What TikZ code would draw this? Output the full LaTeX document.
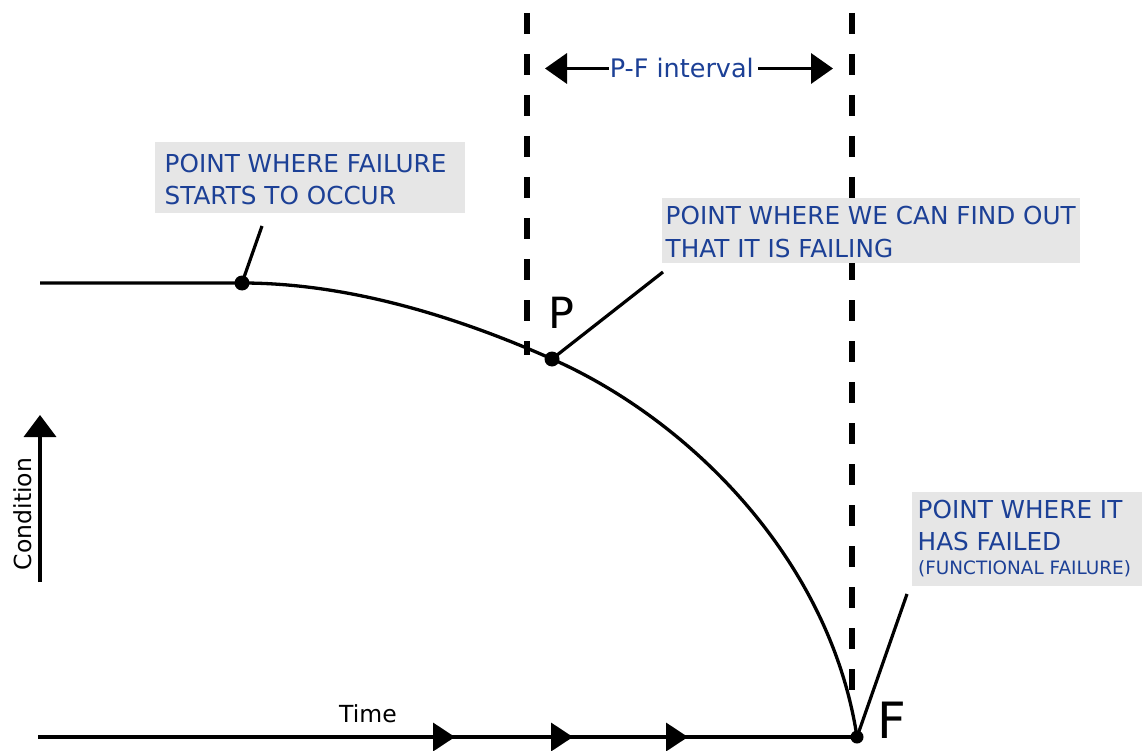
\documentclass[tikz,border=0pt]{standalone}
\usepackage{fontspec}
\setmainfont{DejaVu Sans}
\usetikzlibrary{arrows.meta,decorations.markings}
\definecolor{lblue}{RGB}{28,64,150}
\definecolor{boxgrey}{RGB}{230,230,230}
\begin{document}
\begin{tikzpicture}[x=1pt,y=-1pt,
  gbox/.style={fill=boxgrey, inner sep=0, anchor=north west},
  lbl/.style={text=lblue, inner sep=0, anchor=base west, font=\fontsize{24.7}{30}\selectfont},
  slbl/.style={lbl, font=\fontsize{18.4}{22}\selectfont},
  dot/.style={circle, fill=black, inner sep=0, minimum size=15pt},
  curveline/.style={line width=3.3pt},
  leader/.style={line width=3.2pt},
  dashline/.style={line width=6pt, dash pattern=on 21pt off 20pt},
  bigtip/.style={-{Triangle[length=22pt,width=30pt]}},
  axislbl/.style={font=\fontsize{23.5}{28}\selectfont, inner sep=0},
  bigl/.style={inner sep=0, anchor=base west}]
\useasboundingbox (0,0) rectangle (1142,751);
\fill[white] (0,0) rectangle (1142,751);

% dashed verticals
\coordinate (d1t) at (527,13);
\coordinate (d1b) at (527,355);
\coordinate (d2t) at (852,13);
\coordinate (d2b) at (852,707);
\draw[dashline] (d1t) -- (d1b);
\draw[dashline] (d2t) -- (d2b);

% P-F interval
\node[lbl, font=\fontsize{25.5}{30}\selectfont] (pfi) at (609.6,78) {P-F interval};
\coordinate (pfl) at (545,68);
\coordinate (pfr) at (833,68);
\draw[line width=3.6pt, bigtip] ([xshift=-1pt]pfi.west) -- (pfi.west -| pfl);
\draw[line width=3.6pt, bigtip] ([xshift=4pt]pfi.east) -- (pfi.east -| pfr);

% label boxes
\node[gbox, minimum width=310pt, minimum height=71pt] (b1) at (155,142) {};
\node[gbox, minimum width=418pt, minimum height=65pt] (b2) at (662,198) {};
\node[gbox, minimum width=230pt, minimum height=94pt] (b3) at (912,492) {};

\node[lbl] (t1a) at (164.5,173) {POINT WHERE FAILURE};
\node[lbl] (t1b) at (164.5,205) {STARTS TO OCCUR};
\node[lbl] (t2a) at (665.5,225) {POINT WHERE WE CAN FIND OUT};
\node[lbl] (t2b) at (665.5,258) {THAT IT IS FAILING};
\node[lbl] (t3a) at (917.5,518) {POINT WHERE IT};
\node[lbl] (t3b) at (917.5,550) {HAS FAILED};
\node[slbl] (t3c) at (918,574) {(FUNCTIONAL FAILURE)};

% curve
\coordinate (s0) at (40,283);
\node[dot] (A) at (242,283) {};
\node[dot] (P) at (552,359) {};
\node[dot, minimum size=13pt] (F) at (857,737) {};
\draw[curveline] (s0) -- (A.center) .. controls (350,283) and (460,318) .. (P.center)
  .. controls (690,420) and (830,560) .. (F.center);

% leaders
\coordinate (la) at (262,226);
\coordinate (lp) at (663,272);
\coordinate (lf) at (907,594);
\draw[leader] (A.center) -- (la);
\draw[leader] (P.center) -- (lp);
\draw[leader] (F.center) -- (lf);

% P and F letters
\node[bigl, font=\fontsize{43}{50}\selectfont] (Pl) at (548,328) {P};
\node[bigl, font=\fontsize{50}{58}\selectfont] (Fl) at (877,738) {F};

% time axis
\coordinate (t0) at (38,737);
\draw[line width=3.6pt, postaction={decorate}, decoration={markings,
    mark=at position 417pt with {\arrow{Triangle[length=22pt,width=28pt]}},
    mark=at position 535pt with {\arrow{Triangle[length=22pt,width=28pt]}},
    mark=at position 650pt with {\arrow{Triangle[length=22pt,width=28pt]}}}]
  (t0) -- (F.center);
\node[axislbl, anchor=base west] (time) at (339,722) {Time};

% condition axis
\coordinate (c0) at (40,582);
\coordinate (c1) at (40,415);
\draw[line width=3.6pt, -{Triangle[length=22pt,width=32pt]}] (c0) -- (c1);
\node[axislbl, rotate=90] (cond) at (23,514) {Condition};
\end{tikzpicture}
\end{document}
